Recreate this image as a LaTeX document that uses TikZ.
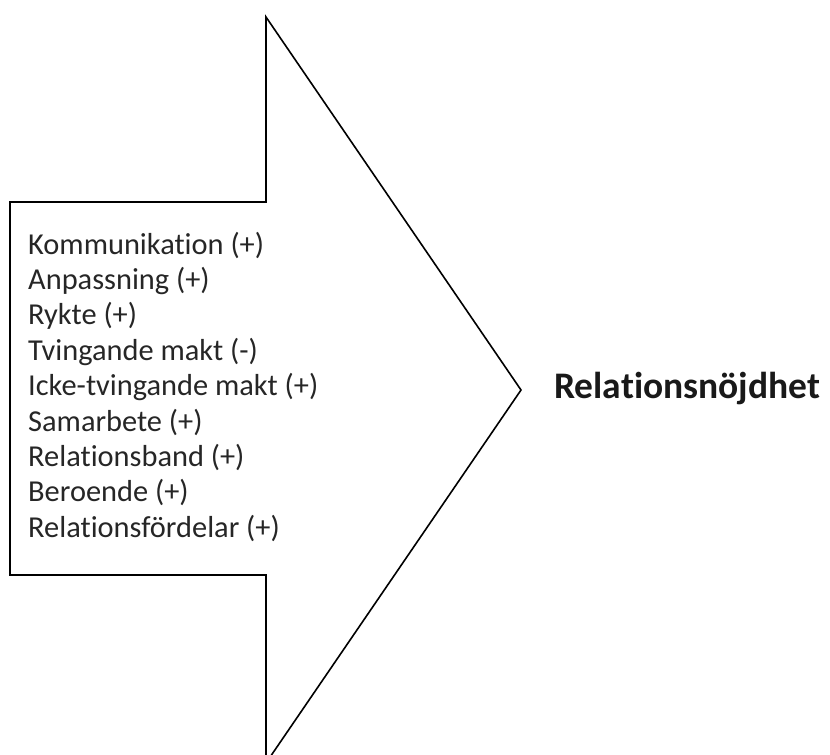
\documentclass[tikz,border=0pt]{standalone}
\usepackage{fontspec}
\setmainfont{Carlito}[Ligatures=NoCommon]
\usetikzlibrary{positioning}

\begin{document}
\begin{tikzpicture}[
  x=1pt, y=-1pt,
  factor/.style={anchor=base west, inner sep=0pt, text=black!85,
                 font=\fontsize{30.4}{36}\selectfont},
  outcome/.style={anchor=base west, inner sep=0pt, text=black!90,
                  font=\fontsize{37.5}{45}\selectfont\bfseries},
  arrowline/.style={draw=black, line width=1.6pt, line join=miter}
]
  \useasboundingbox (0,0) rectangle (830,755);

  % the big arrow
  \begin{scope}
    \clip (0,0) rectangle (830,755);
    \draw[arrowline] (10,202) -- (266,202) -- (266,17) -- (521,390)
      -- (266,763) -- (266,575) -- (10,575) -- cycle;
  \end{scope}

  % factors
  \foreach \i/\txt in {0/Kommunikation (+), 1/Anpassning (+), 2/Rykte (+),
      3/Tvingande makt (-), 4/Icke-tvingande makt (+), 5/Samarbete (+),
      6/Relationsband (+), 7/Beroende (+), 8/Relationsfördelar (+)} {
    \node[factor] (f\i) at (28,254+35.4*\i) {\txt};
  }

  \node[outcome] (rn) at (554,398) {Relationsnöjdhet};
\end{tikzpicture}
\end{document}
